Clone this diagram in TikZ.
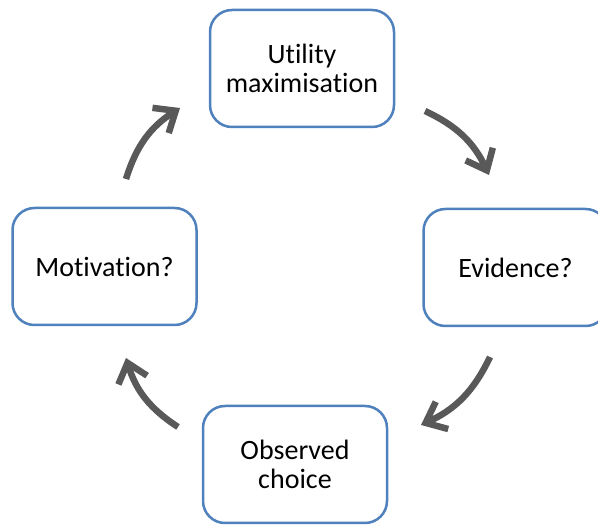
\documentclass[tikz,border=0pt]{standalone}
\usepackage{fontspec}
\setmainfont{Carlito}[Ligatures=NoCommon]
\usetikzlibrary{arrows.meta}
\definecolor{boxblue}{RGB}{79,129,189}
\definecolor{arrowgray}{RGB}{89,89,89}
\begin{document}
\begin{tikzpicture}[x=1pt,y=1pt,
    stagebox/.style={draw=boxblue, line width=2.5pt, fill=white, rounded corners=22pt,
        minimum width=184pt, minimum height=117pt, align=center,
        font=\fontsize{28}{29.5}\selectfont},
    cyclearrow/.style={draw=arrowgray, line width=6.5pt,
        -{Straight Barb[length=18pt,width=30pt]}}]
    \useasboundingbox (0,0) rectangle (598,525);
    \clip (0,0) rectangle (598,525);

    % the four stages
    \node[stagebox] (util) at (302,456.5) {Utility\\maximisation};
    \node[stagebox] (evid) at (515.5,257.5) {Evidence?};
    \node[stagebox] (obs) at (295,60.5) {Observed\\choice};
    \node[stagebox] (motiv) at (104.5,258.5) {Motivation?};

    % arrow ends
    \coordinate (a1s) at (425,414);
    \coordinate (a1e) at (489,350);
    \coordinate (a2s) at (490,168);
    \coordinate (a2e) at (421,100);
    \coordinate (a3s) at (178,98);
    \coordinate (a3e) at (126,167);
    \coordinate (a4s) at (126,346);
    \coordinate (a4e) at (180,417);

    % arrows round the cycle
    \draw[cyclearrow] (a1s) to[bend left=20] (a1e);
    \draw[cyclearrow] (a2s) to[bend left=20] (a2e);
    \draw[cyclearrow] (a3s) to[bend left=20] (a3e);
    \draw[cyclearrow] (a4s) to[bend left=20] (a4e);
\end{tikzpicture}
\end{document}
